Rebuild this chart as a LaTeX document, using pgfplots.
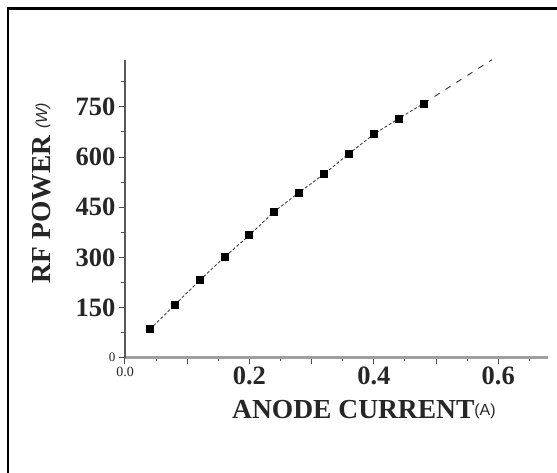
\documentclass[border=0pt]{standalone}
\usepackage{fontspec}
\setmainfont{Liberation Serif}
\newfontfamily\unitfont{Liberation Sans}
\usepackage{pgfplots}
\pgfplotsset{compat=1.18}

\begin{document}
\begin{tikzpicture}
% frame of the figure (cut at right and bottom)
\draw[line width=2.6pt] (8pt,-3pt) -- (8pt,463.5pt) -- (560pt,463.5pt);
\begin{axis}[
    at={(125pt,114.3pt)}, anchor=south west,
    scale only axis, width=423pt, height=297.7pt,
    xmin=0, xmax=0.68, ymin=0, ymax=890,
    clip=false,
    axis x line=bottom, axis y line=left,
    x axis line style={-, draw=gray!75, line width=2.6pt},
    y axis line style={-, draw=gray!70!black, line width=1.6pt},
    tick align=outside,
    major tick length=6pt, minor tick length=3.5pt,
    tick style={draw=gray!60!black, line width=1pt},
    xtick={0,0.1,0.2,0.3,0.4,0.5,0.6},
    minor xtick={0.05,0.15,0.25,0.35,0.45,0.55,0.65},
    xticklabels={{\fontsize{14}{14}\selectfont\mdseries 0.0},,0.2,,0.4,,0.6},
    ytick={0,150,300,450,600,750},
    minor ytick={75,225,375,525,675,825},
    yticklabels={{\fontsize{13}{13}\selectfont\mdseries 0},150,300,450,600,750},
    tick label style={font=\fontsize{26.5}{28}\selectfont\bfseries, text=black!85},
    xlabel={ANODE CURRENT\raisebox{3pt}{\unitfont\mdseries\fontsize{16}{16}\selectfont(A)}},
    xlabel style={at={(axis description cs:0.565,-0.2026)}, anchor=base,
        font=\fontsize{27.5}{30}\selectfont\bfseries, text=black!85},
    ylabel={RF POWER\ \raisebox{3pt}{\unitfont\mdseries\itshape\fontsize{16}{16}\selectfont(W)}},
    ylabel style={at={(axis description cs:-0.177,0.553)}, anchor=base,
        font=\fontsize{27.5}{30}\selectfont\bfseries, text=black!85},
]
\addplot[densely dashed, draw=gray!50!black, line width=0.9pt,
    mark=square*, mark size=3.5pt, mark options={solid, fill=black, draw=black}]
coordinates {
    (0.04,85) (0.08,158) (0.12,231) (0.16,301) (0.20,366) (0.24,437)
    (0.28,494) (0.32,549) (0.36,610) (0.40,668) (0.44,715) (0.48,760)
};
\addplot[draw=black!80, line width=0.9pt, dash pattern=on 6pt off 7pt]
coordinates {(0.48,760) (0.59,891)};
\end{axis}
\pgfresetboundingbox
\useasboundingbox (0pt,0pt) rectangle (557pt,472pt);
\end{tikzpicture}
\end{document}
